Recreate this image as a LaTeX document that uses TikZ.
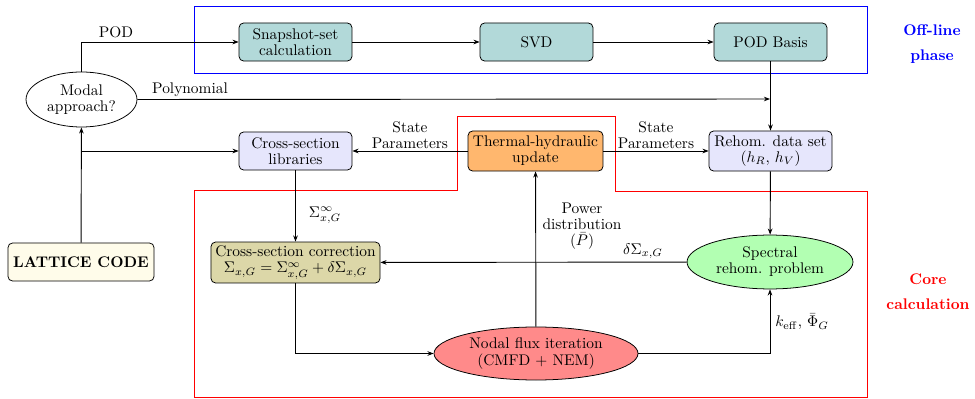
\documentclass[tikz,border=0pt]{standalone}
\usetikzlibrary{shapes.geometric,arrows.meta}
\definecolor{tealbox}{RGB}{178,217,217}
\definecolor{bluebox}{RGB}{230,230,252}
\definecolor{orangebox}{RGB}{255,183,110}
\definecolor{olivebox}{RGB}{220,215,168}
\definecolor{redell}{RGB}{255,138,138}
\definecolor{greenell}{RGB}{178,255,178}
\definecolor{creambox}{RGB}{255,252,234}
\begin{document}
\begin{tikzpicture}[x=0.649pt,y=-0.649pt,
  every node/.style={font=\fontsize{10}{10.4}\selectfont, align=center},
  box/.style={draw, rounded corners=3pt, inner sep=1.5pt, line width=0.5pt},
  ell/.style={draw, ellipse, inner sep=0pt, line width=0.5pt},
  arr/.style={-{Stealth[length=4pt,width=3pt]}, line width=0.6pt},
  lbl/.style={inner sep=1pt}]
\useasboundingbox (0,0) rectangle (975,399);
% frames
\draw[blue, line width=0.6pt] (194,6) rectangle (867,73);
\draw[red, line width=0.6pt] (194,190) -- (457,190) -- (457,116) -- (615,116) -- (615,191) -- (867,191) -- (867,397) -- (194,397) -- cycle;
% nodes
\node[box, fill=tealbox, minimum width=73.3pt, minimum height=24.7pt] (snap) at (295.5,42) {Snapshot-set\\calculation};
\node[box, fill=tealbox, minimum width=73.3pt, minimum height=24.7pt] (svd) at (536.5,42) {SVD};
\node[box, fill=tealbox, minimum width=73.3pt, minimum height=24.7pt] (podb) at (770.5,42) {POD Basis};
\node[ell, minimum width=72pt, minimum height=35.7pt] (modal) at (81.5,99.5) {Modal\\approach?};
\node[box, fill=bluebox, minimum width=73.3pt, minimum height=24.7pt] (xslib) at (295.5,151) {Cross-section\\libraries};
\node[box, fill=orangebox, minimum width=87.6pt, minimum height=26pt] (th) at (535.5,151) {Thermal-hydraulic\\update};
\node[box, fill=bluebox, minimum width=79.8pt, minimum height=26pt] (rehom) at (770.5,151) {Rehom. data set\\$(h_R,\,h_V)$};
\node[box, fill=creambox, minimum width=94.8pt, minimum height=24.7pt] (lattice) at (81,262) {\textbf{LATTICE CODE}};
\node[box, fill=olivebox, minimum width=109.7pt, minimum height=26.6pt] (xscor) at (295.5,262.5) {Cross-section correction\\$\Sigma_{x,G}=\Sigma^{\infty}_{x,G}+\delta\Sigma_{x,G}$};
\node[ell, fill=greenell, minimum width=107.7pt, minimum height=35pt] (spec) at (770,262) {Spectral\\rehom. problem};
\node[ell, fill=redell, minimum width=132.4pt, minimum height=34.4pt] (nodal) at (536,353.5) {Nodal flux iteration\\(CMFD + NEM)};
\coordinate (polyend) at (770,99);
% side labels
\node[blue, font=\bfseries] (offl) at (932,44) {Off-line\\[4pt]phase};
\node[red, font=\bfseries] (corel) at (928,292) {Core\\[4pt]calculation};
% connectors
\draw[arr] (modal.north) |- (snap.west);
\node[lbl] (podl) at (116,32) {POD};
\draw[arr] (snap) -- (svd);
\draw[arr] (svd) -- (podb);
\draw[arr] (modal.east) -- (polyend);
\node[lbl] (polyl) at (190,90) {Polynomial};
\draw[arr] (podb) -- (rehom);
\draw[arr] (lattice) -- (modal);
\draw[arr] (81,151) -- (xslib);
\draw[arr] (th) -- node[above, lbl] (sp1) {State\\Parameters} (xslib);
\draw[arr] (th) -- node[above, lbl] (sp2) {State\\Parameters} (rehom);
\draw[arr] (xslib) -- (xscor);
\node (sinf) at (325,215) {$\Sigma^{\infty}_{x,G}$};
\draw[arr] (rehom) -- (spec);
\draw[arr] (spec) -- (xscor);
\node (dsig) at (643,251) {$\delta\Sigma_{x,G}$};
\draw[arr] (xscor.south) |- (nodal.west);
\draw[arr] (nodal.east) -| (spec.south);
\node (keff) at (802,322) {$k_{\mathrm{eff}}$, $\bar{\Phi}_G$};
\draw[arr] (nodal) -- (th);
\node (powl) at (582,226) {Power\\distribution\\$(\bar{P})$};
\end{tikzpicture}
\end{document}
